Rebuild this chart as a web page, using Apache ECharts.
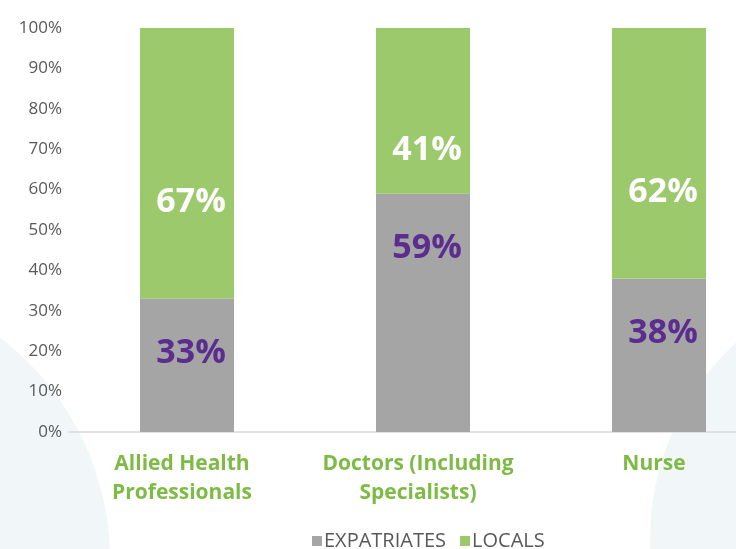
<!DOCTYPE html>
<html>
<head>
<meta charset="utf-8">
<script src="https://cdn.jsdelivr.net/npm/echarts@6/dist/echarts.min.js"></script>
<style>
    html, body {margin: 0; padding: 0; background: #fff; overflow: hidden;}
    /* the plot runs past the right edge of the window, like the original */
    #chart {width: 777px; height: 549px;}
</style>
</head>
<body>
<div id="chart"></div>
<script>
// staff groups and their split (percent)
const categories = ['Allied Health\nProfessionals', 'Doctors (Including\nSpecialists)', 'Nurse'];
const expatriates = [33, 59, 38];
const locals = [67, 41, 62];
const yTicks = [0, 10, 20, 30, 40, 50, 60, 70, 80, 90, 100];

const font = '"Open Sans", "Noto Sans", sans-serif';

let chart = echarts.init(document.getElementById('chart'));

let option = {
    backgroundColor: '#ffffff',
    animation: false,
    // faint background shapes like the photo behind the original
    graphic: [
        {
            type: 'circle', z: -10, silent: true,
            shape: {cx: -170, cy: 560, r: 280},
            style: {fill: 'rgba(220,232,241,0.4)'}
        },
        {
            type: 'circle', z: -10, silent: true,
            shape: {cx: 920, cy: 540, r: 270},
            style: {fill: 'rgba(225,234,241,0.45)'}
        }
    ],
    grid: {
        left: 69,
        right: 0,
        top: 28,
        bottom: 117,
        containLabel: false
    },
    legend: {
        bottom: -7,
        left: 307,
        itemWidth: 10,
        itemHeight: 10,
        itemGap: 14,
        icon: 'rect',
        textStyle: {fontFamily: font, fontSize: 20, color: '#595959', padding: [0, 0, 0, -3]},
        data: ['EXPATRIATES', 'LOCALS']
    },
    xAxis: {
        type: 'category',
        data: categories,
        axisLine: {lineStyle: {color: '#d9d9d9', width: 1.5}},
        axisTick: {show: false},
        axisLabel: {
            interval: 0,
            margin: 18,
            padding: [0, 10, 0, 0],
            fontFamily: font,
            fontSize: 21,
            fontWeight: 'bold',
            lineHeight: 29,
            color: '#7dbb45'
        }
    },
    yAxis: {
        type: 'value',
        min: 0,
        max: 100,
        interval: 10,
        splitLine: {show: false},
        axisLine: {show: false},
        axisTick: {show: false},
        axisLabel: {
            margin: 7,
            fontFamily: font,
            fontSize: 17,
            color: '#595959',
            formatter: v => yTicks.includes(v) ? v + '%' : ''
        }
    },
    series: [
        {
            name: 'EXPATRIATES',
            type: 'bar',
            stack: 'total',
            barWidth: 94,
            data: expatriates,
            itemStyle: {color: '#a5a5a5'},
            label: {
                show: true,
                position: 'insideTop',
                distance: 38,
                offset: [4, 0],
                fontFamily: font,
                fontSize: 34,
                fontWeight: 'bold',
                color: '#5b2d8e',
                formatter: '{c}%'
            }
        },
        {
            name: 'LOCALS',
            type: 'bar',
            stack: 'total',
            barWidth: 94,
            data: locals,
            itemStyle: {color: '#9cc96b'},
            label: {
                show: true,
                position: 'inside',
                offset: [4, 39],
                fontFamily: font,
                fontSize: 34,
                fontWeight: 'bold',
                color: '#ffffff',
                formatter: '{c}%'
            }
        }
    ]
};

chart.setOption(option);
</script>
</body>
</html>
